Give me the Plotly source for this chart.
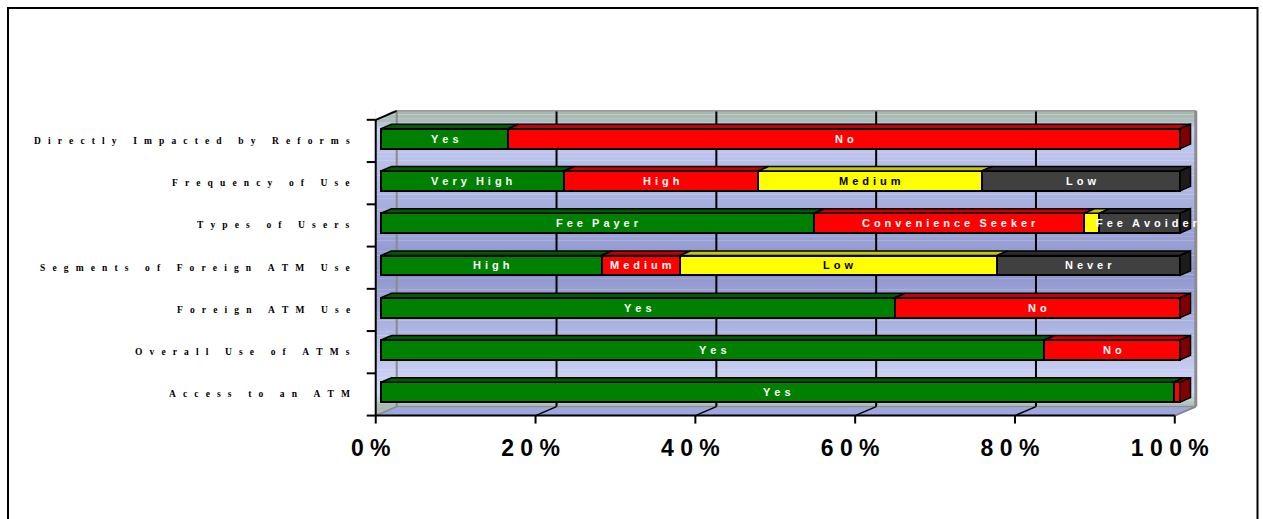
import plotly.graph_objects as go

# ---------------- data ----------------
categories = ["Access to an ATM", "Overall Use of ATMs", "Foreign ATM Use",
              "Segments of Foreign ATM Use", "Types of Users", "Frequency of Use",
              "Directly Impacted by Reforms"]
seg1_values = [99.2, 83.0, 64.3, 27.6, 54.2, 22.9, 15.9]
seg1_labels = ["Yes", "Yes", "Yes", "High", "Fee Payer", "Very High", "Yes"]
seg2_values = [0.8, 17.0, 35.7, 9.8, 33.8, 24.3, 84.1]
seg2_labels = ["", "No", "No", "Medium", "Convenience Seeker", "High", "No"]
seg3_values = [None, None, None, 39.7, 1.9, 28.0, None]
seg3_labels = ["", "", "", "Low", "", "Medium", ""]
seg4_values = [None, None, None, 22.9, 10.1, 24.8, None]
seg4_labels = ["", "", "", "Never", "Fee Avoider", "Low", ""]
tick_values = [0, 20, 40, 60, 80, 100]
tick_labels = ["0%", "20%", "40%", "60%", "80%", "100%"]

# ---------------- styling / geometry ----------------
W, H = 1263, 519
ML, MR, MT, MB = 361, 55, 107, 93
XR = [-2.5, 103.5]
YR = [-0.8, 6.75]
PW, PH = W - ML - MR, H - MT - MB
PXX = PW / (XR[1] - XR[0])
PXY = PH / (YR[1] - YR[0])
DX, DY = 21 / PXX, 9 / PXY          # full depth vector in data units
FX, FY = -0.25 * DX, -0.25 * DY      # front plane offset from bar plane
BX, BY = 0.75 * DX, 0.75 * DY        # back wall offset from bar plane
HX, HY = 0.5 * DX, 0.5 * DY          # bar depth
BAR_W = 0.47
NCAT = len(categories)

SANS = "Liberation Sans, Arial, sans-serif"
SERIF = "Liberation Serif, Times New Roman, serif"
NB = "\u00a0"
HAIR = "\u200a"
OVERFLOW_SHIFT = 7  # px, label wider than its segment is nudged right

seg_colors = ["#008000", "#FF0000", "#FFFF00", "#404040"]
top_colors = ["#005c00", "#c80000", "#c8c800", "#2c2c2c"]
side_colors = ["#004000", "#800000", "#909000", "#1c1c1c"]
text_colors = ["white", "white", "black", "white"]


def spaced(s, sep, wsep):
    return wsep.join(sep.join(list(w)) for w in s.split(" "))


def lerp_color(c1, c2, t):
    a = [int(c1[i:i + 2], 16) for i in (1, 3, 5)]
    b = [int(c2[i:i + 2], 16) for i in (1, 3, 5)]
    return "#%02x%02x%02x" % tuple(round(a[i] + (b[i] - a[i]) * t) for i in range(3))


stops = [(0.0, "#a4b8ac"), (0.03, "#aabcb8"), (0.06, "#c6cef2"), (0.54, "#8c94cc"),
         (0.95, "#d0d8f8"), (0.98, "#b8c8cc"), (1.0, "#a8bcb0")]


def grad(t):
    for (t0, c0), (t1, c1) in zip(stops[:-1], stops[1:]):
        if t0 <= t <= t1:
            return lerp_color(c0, c1, (t - t0) / (t1 - t0) if t1 > t0 else 0)
    return stops[-1][1]


fig = go.Figure()

series = [(seg1_values, seg1_labels), (seg2_values, seg2_labels),
          (seg3_values, seg3_labels), (seg4_values, seg4_labels)]
ys = list(range(NCAT))

for i, (vals, labs) in enumerate(series):
    fig.add_trace(go.Bar(
        y=ys, x=vals, orientation="h", width=BAR_W,
        marker=dict(color=seg_colors[i], line=dict(color="black", width=2)),
        hoverinfo="skip", showlegend=False))

annotations = []
# 3D top and side faces + segment labels derived from the stacked values
for k in range(NCAT):
    base = 0.0
    last = None
    yt = k + BAR_W / 2
    yb = k - BAR_W / 2
    for i, (vals, labs) in enumerate(series):
        v = vals[k]
        if v is None:
            continue
        x0, x1 = base, base + v
        fig.add_trace(go.Scatter(
            x=[x0, x1, x1 + HX, x0 + HX, x0], y=[yt, yt, yt + HY, yt + HY, yt],
            mode="lines", fill="toself", fillcolor=top_colors[i],
            line=dict(color="black", width=1.5), hoverinfo="skip", showlegend=False))
        if labs[k]:
            est_w = len(labs[k]) * 10
            annotations.append(dict(
                xref="x", yref="y", x=(x0 + x1) / 2, y=k, xanchor="center",
                yanchor="middle", showarrow=False,
                xshift=OVERFLOW_SHIFT if est_w > v * PXX else 0,
                text=spaced(labs[k], NB + HAIR, NB * 3),
                font=dict(family=SANS, size=11, color=text_colors[i], weight="bold")))
        base = x1
        last = i
    fig.add_trace(go.Scatter(
        x=[base, base, base + HX, base + HX, base], y=[yt, yb, yb + HY, yt + HY, yt],
        mode="lines", fill="toself", fillcolor=side_colors[last],
        line=dict(color="black", width=1.5), hoverinfo="skip", showlegend=False))

shapes = []
# back/side wall gradient strips
y_top, y_bot = 6.5 + BY, -0.5 + FY
x_left, x_right = FX, 100 + BX
wall_top, wall_bot = 6.5 + BY, -0.5 + BY
N = 80
for j in range(N):
    ya = y_top - (y_top - y_bot) * j / N
    yb2 = y_top - (y_top - y_bot) * (j + 1) / N
    t = min(1.0, max(0.0, (wall_top - (ya + yb2) / 2) / (wall_top - wall_bot)))
    shapes.append(dict(type="rect", xref="x", yref="y", x0=x_left, x1=x_right,
                       y0=yb2, y1=ya + 0.004, fillcolor=grad(t), line=dict(width=0),
                       layer="below"))
# white triangles outside the box
shapes.append(dict(type="path", xref="x", yref="y", layer="below", fillcolor="white",
                   line=dict(width=0),
                   path=f"M{FX},{6.5 + FY} L{FX},{y_top + 0.05} L{BX},{y_top + 0.05} Z"))
shapes.append(dict(type="path", xref="x", yref="y", layer="below", fillcolor="white",
                   line=dict(width=0),
                   path=f"M{100 + FX},{-0.5 + FY - 0.01} L{100 + BX + 0.3},{-0.5 + FY - 0.01} "
                        f"L{100 + BX + 0.3},{-0.5 + BY} Z"))
# floor
shapes.append(dict(type="path", xref="x", yref="y", layer="below", fillcolor="#9ea6de",
                   line=dict(color="#8a8a8a", width=1),
                   path=f"M{FX},{-0.5 + FY} L{100 + FX},{-0.5 + FY} L{100 + BX},{-0.5 + BY} "
                        f"L{BX},{-0.5 + BY} Z"))
# back wall gridlines (black) and floor slant ticks
for p in tick_values[1:-1]:
    shapes.append(dict(type="line", xref="x", yref="y", layer="below",
                       x0=p + BX, x1=p + BX, y0=-0.5 + BY, y1=6.5 + BY,
                       line=dict(color="black", width=2)))
    shapes.append(dict(type="line", xref="x", yref="y", layer="below",
                       x0=p + FX, x1=p + BX, y0=-0.5 + FY, y1=-0.5 + BY,
                       line=dict(color="black", width=1.5)))
# wall edges (gray)
shapes.append(dict(type="line", xref="x", yref="y", layer="below", x0=BX, x1=BX,
                   y0=-0.5 + BY, y1=6.5 + BY, line=dict(color="#8a8a8a", width=2)))
shapes.append(dict(type="line", xref="x", yref="y", layer="below", x0=BX, x1=100 + BX,
                   y0=6.5 + BY, y1=6.5 + BY, line=dict(color="#9a9a9a", width=1.5)))
shapes.append(dict(type="line", xref="x", yref="y", layer="below", x0=100 + BX, x1=100 + BX,
                   y0=-0.5 + BY, y1=6.5 + BY, line=dict(color="#8c8c8c", width=3)))
shapes.append(dict(type="line", xref="x", yref="y", layer="below", x0=FX, x1=BX,
                   y0=-0.5 + FY, y1=-0.5 + BY, line=dict(color="#8a8a8a", width=1.5)))
shapes.append(dict(type="line", xref="x", yref="y", layer="below", x0=100 + FX, x1=100 + BX,
                   y0=-0.5 + FY, y1=-0.5 + BY, line=dict(color="#8a8a8a", width=2)))
# front axes (black)
shapes.append(dict(type="line", xref="x", yref="y", layer="below", x0=FX, x1=FX,
                   y0=-0.5 + FY, y1=6.5 + FY, line=dict(color="black", width=2)))
shapes.append(dict(type="line", xref="x", yref="y", layer="below", x0=FX, x1=BX,
                   y0=6.5 + FY, y1=6.5 + BY, line=dict(color="black", width=2)))
shapes.append(dict(type="line", xref="x", yref="y", layer="below", x0=FX, x1=100 + FX,
                   y0=-0.5 + FY, y1=-0.5 + FY, line=dict(color="black", width=2)))
for k in range(NCAT + 1):
    yk = k - 0.5 + FY
    shapes.append(dict(type="line", xref="x", yref="y", layer="below",
                       x0=FX - 9 / PXX, x1=FX, y0=yk, y1=yk,
                       line=dict(color="black", width=2)))
for p in tick_values:
    shapes.append(dict(type="line", xref="x", yref="y", layer="below",
                       x0=p + FX, x1=p + FX, y0=-0.5 + FY, y1=-0.5 + FY - 8 / PXY,
                       line=dict(color="black", width=2)))
# outer frame
shapes.append(dict(type="rect", xref="paper", yref="paper",
                   x0=(8 - ML) / PW, x1=(1257.5 - ML) / PW,
                   y0=1 - (560 - MT) / PH, y1=1 - (8 - MT) / PH,
                   line=dict(color="black", width=2), fillcolor="rgba(0,0,0,0)",
                   layer="below"))

for k, c in enumerate(categories):
    annotations.append(dict(
        xref="x", yref="y", x=FX, y=k + FY, xanchor="right", yanchor="middle",
        xshift=-24, showarrow=False,
        text=spaced(c, NB * 3, NB * 7),
        font=dict(family=SERIF, size=9.5, color="black", weight="bold")))

fig.update_layout(
    width=W, height=H, barmode="stack",
    margin=dict(l=ML, r=MR, t=MT, b=MB, pad=0),
    paper_bgcolor="white", plot_bgcolor="rgba(0,0,0,0)",
    shapes=shapes, annotations=annotations,
    xaxis=dict(range=XR, showgrid=False, zeroline=False, showline=False,
               tickmode="array", tickvals=[p + FX - 5 / PXX for p in tick_values],
               ticktext=[spaced(t, NB, NB) for t in tick_labels], ticks="",
               ticklabelstandoff=6,
               tickfont=dict(family=SANS, size=23, color="black", weight="bold")),
    yaxis=dict(range=YR, showgrid=False, zeroline=False, showline=False,
               showticklabels=False, ticks=""),
)

fig.write_html("out.html")
